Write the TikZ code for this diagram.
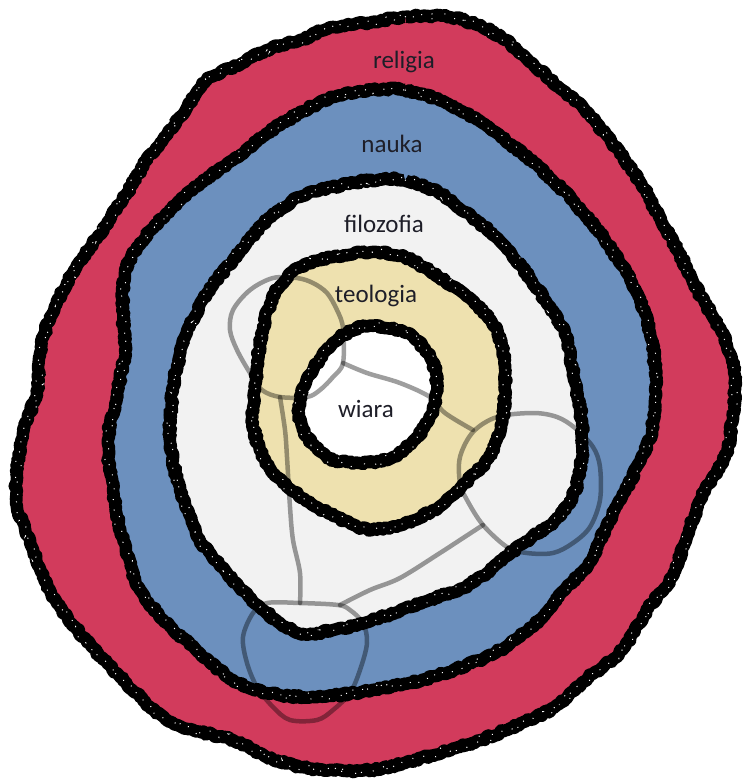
\documentclass[tikz,border=0pt]{standalone}
\usepackage{fontspec}
\setmainfont{Carlito}
\usetikzlibrary{decorations.pathmorphing}
\definecolor{relred}{RGB}{210,59,92}
\definecolor{naublue}{RGB}{108,144,190}
\definecolor{filgray}{RGB}{242,242,242}
\definecolor{teotan}{RGB}{238,225,175}
\definecolor{txt}{RGB}{30,30,40}
\pgfmathsetseed{7}
\def\pOuter{plot[smooth cycle,tension=0.55] coordinates {(372,22)(405,17)(449,17)(482,27)(505,40)(532,63)(559,87)(585,110)(612,143)(639,180)(659,217)(679,253)(699,293)(719,327)(732,360)(735,390)(732,423)(725,457)(705,490)(689,530)(672,577)(649,607)(622,650)(589,677)(555,707)(522,723)(472,743)(405,763)(372,770)(333,770)(300,767)(267,757)(233,740)(193,730)(167,720)(140,697)(107,663)(83,637)(60,607)(43,577)(30,540)(17,507)(17,473)(23,433)(37,390)(40,353)(50,317)(67,283)(83,257)(107,223)(127,193)(147,160)(173,127)(190,103)(207,80)(233,67)(267,50)(300,40)(333,27)}}
\def\pNauka{plot[smooth cycle,tension=0.55] coordinates {(372,90)(405,90)(439,100)(472,117)(505,140)(539,167)(572,200)(605,240)(632,283)(649,327)(655,367)(655,390)(652,430)(639,463)(622,497)(605,530)(589,563)(565,590)(539,620)(505,647)(472,663)(422,680)(372,690)(317,697)(267,693)(233,680)(200,653)(167,623)(140,590)(123,540)(113,490)(108,440)(118,390)(125,350)(123,317)(125,273)(140,243)(167,213)(200,183)(233,160)(267,133)(300,113)(333,97)}}
\def\pFilo{plot[smooth cycle,tension=0.55] coordinates {(372,180)(405,180)(439,193)(472,217)(499,240)(522,267)(545,300)(565,333)(572,367)(577,390)(582,423)(582,457)(575,490)(559,517)(532,537)(505,557)(472,583)(422,603)(372,620)(333,630)(298,633)(260,607)(227,573)(200,540)(180,490)(170,440)(173,390)(177,367)(187,333)(207,293)(233,260)(267,220)(300,197)(333,187)}}
\def\pTeo{plot[smooth cycle,tension=0.55] coordinates {(372,252)(405,257)(439,277)(472,300)(495,327)(505,360)(505,390)(502,423)(489,457)(465,483)(439,507)(405,523)(372,530)(350,523)(317,507)(283,483)(263,457)(253,423)(255,390)(257,367)(263,327)(277,290)(300,267)(333,257)}}
\def\pWiara{plot[smooth cycle,tension=0.55] coordinates {(373,326)(407,333)(430,357)(437,383)(433,410)(417,437)(393,457)(360,463)(327,457)(303,430)(300,400)(313,370)(333,343)(353,330)}}
\tikzset{
  border/.style={draw=black, line width=12.5pt, line join=round,
    decorate, decoration={random steps, segment length=2.5pt, amplitude=1.5pt}},
  speck/.style={draw=white, line width=1pt, dash pattern=on 1pt off 13pt,
    decorate, decoration={random steps, segment length=3pt, amplitude=4.5pt}},
  vein/.style={draw=black, draw opacity=0.38, line width=4.5pt, line cap=round, line join=round},
  lbl/.style={text=txt, font=\fontsize{25}{30}\selectfont, anchor=base, inner sep=0pt}
}
\begin{document}
\begin{tikzpicture}[x=1pt,y=-1pt]
\useasboundingbox (0,0) rectangle (744,780);
\fill[white] (0,0) rectangle (744,780);
% fills
\fill[relred] \pOuter;
\fill[naublue] \pNauka;
\fill[filgray] \pFilo;
\fill[teotan] \pTeo;
\fill[white] \pWiara;
% veins
\draw[vein] plot[smooth cycle,tension=0.55] coordinates {(343,328)(337,310)(327,293)(313,283)(297,278)(273,278)(250,290)(233,310)(230,330)(237,350)(250,373)(262,390)(280,397)(307,397)(320,390)(333,377)(343,363)};
\draw[vein] plot[smooth,tension=0.55] coordinates {(343,363)(367,373)(400,383)(430,397)(445,413)(473,430)};
\draw[vein] plot[smooth cycle,tension=0.55] coordinates {(473,432)(497,417)(533,413)(557,417)(575,428)(593,447)(600,467)(600,500)(590,527)(573,543)(553,553)(527,553)(507,547)(483,525)(467,500)(460,483)(460,457)};
\draw[vein] plot[smooth,tension=0.55] coordinates {(483,525)(460,540)(440,553)(400,578)(370,590)(340,605)};
\draw[vein] plot[smooth,tension=0.55] coordinates {(280,397)(285,430)(287,457)(290,507)(293,540)(300,573)(300,603)};
\draw[vein] plot[smooth cycle,tension=0.55] coordinates {(300,603)(267,603)(253,613)(243,637)(247,663)(257,687)(273,707)(290,720)(317,720)(333,710)(350,693)(360,670)(367,643)(363,623)(350,610)(338,605)};
% borders
\draw[border] \pOuter;
\draw[border] \pNauka;
\draw[border] \pFilo;
\draw[border] \pTeo;
\draw[border] \pWiara;
\draw[speck] \pOuter;
\draw[speck] \pNauka;
\draw[speck] \pFilo;
\draw[speck] \pTeo;
\draw[speck] \pWiara;
% labels
\node[lbl] (religia) at (404,68) {religia};
\node[lbl] (nauka) at (392,152) {nauka};
\node[lbl] (filozofia) at (384,232) {filozofia};
\node[lbl] (teologia) at (376,302) {teologia};
\node[lbl] (wiara) at (366,417) {wiara};
\end{tikzpicture}
\end{document}
